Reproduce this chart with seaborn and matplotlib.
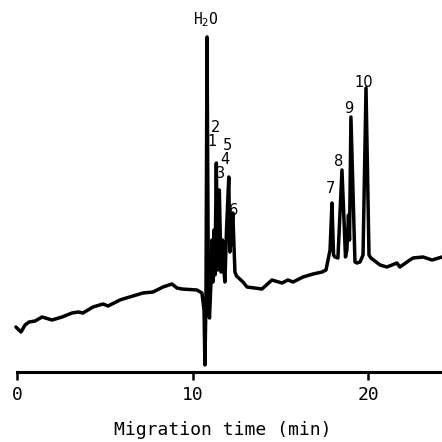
import matplotlib
matplotlib.use("Agg")
import matplotlib.pyplot as plt
import numpy as np
import pandas as pd
import seaborn as sns

# Electropherogram trace (time in min, detector response in arbitrary units)
time_min = [-0.09, 0.20, 0.43, 0.66, 1.00, 1.40, 1.97, 2.54, 3.11, 3.45, 3.73, 4.30, 4.87, 5.16,
            5.84, 6.01, 7.15, 7.72, 8.29, 8.80, 9.09, 9.37, 10.23, 10.51, 10.63, 10.68, 10.74,
            10.80, 10.88, 10.94, 11.03, 11.08, 11.14, 11.20, 11.25, 11.33, 11.40, 11.45, 11.47,
            11.50, 11.60, 11.68, 11.74, 11.82, 11.91, 12.04, 12.10, 12.17, 12.27, 12.39, 12.48,
            12.85, 13.08, 13.93, 14.50,
            15.07, 15.41, 15.70, 16.27, 16.84, 17.35, 17.58, 17.81, 17.92, 18.01, 18.09, 18.26,
            18.49, 18.69, 18.77, 18.86, 18.92, 19.00, 19.23, 19.34, 19.52, 19.69, 19.86, 20.03,
            20.14, 20.66, 21.05, 21.34, 21.62, 21.79, 22.36, 22.54, 23.11, 23.62, 24.19]
signal = [4.5, 4.0, 4.7, 5.0, 5.1, 5.5, 5.2, 5.5, 5.9, 6.0, 5.9, 6.5, 6.8, 6.6,
          7.2, 7.3, 7.9, 8.0, 8.5, 8.8, 8.4, 8.3, 8.2, 7.9, 6.2, 0.7, 7.2,
          33.5, 7.2, 5.4, 9.2, 13.2, 9.0, 14.2, 9.7, 20.9, 10.2, 13.5, 11.0,
          18.2, 10.0, 13.2, 10.5, 9.0, 14.2, 19.5, 12.0, 13.2, 15.9, 10.0, 9.6,
          9.0, 8.5, 8.3, 9.2,
          8.9, 9.2, 9.0, 9.5, 9.8, 10.0, 10.2, 12.2, 16.9, 11.7, 11.5, 11.4,
          20.2, 11.5, 12.2, 15.7, 13.2, 25.5, 11.0, 10.9, 11.0, 11.7, 28.4, 11.7,
          11.4, 10.7, 10.5, 10.7, 10.9, 10.5, 11.2, 11.4, 11.5, 11.2, 11.5]

peak_names = ["1", "2", "3", "4", "5", "6", "7", "8", "9", "10"]
peak_label_time = [11.08, 11.31, 11.59, 11.80, 11.99, 12.33, 17.86, 18.32, 18.89, 19.74]
peak_label_signal = [23.0, 24.5, 19.9, 21.3, 22.6, 16.2, 18.4, 21.0, 26.4, 29.0]
water_label = "H$_2$O"
water_time = 10.74
water_signal = 35.2

tick_values = [0, 10, 20]
tick_labels = ["0", "10", "20"]
x_label = "Migration time (min)"

sns.set_style("white")
plt.rcParams['font.family'] = ['DejaVu Sans Mono', 'DejaVu Sans']
plt.rcParams['mathtext.fontset'] = 'dejavusans'

fig = plt.figure(figsize=(4.42, 4.42), dpi=100)
ax = fig.add_axes([0, 70 / 442, 1, 372 / 442])

df = pd.DataFrame({"time": time_min, "signal": signal})
sns.lineplot(data=df, x="time", y="signal", ax=ax, color="black", linewidth=2.5,
             sort=False, estimator=None)

ax.set_xlim(-0.997, 24.19)
ax.set_ylim(0, 37.2)
for sp in ["left", "right", "top"]:
    ax.spines[sp].set_visible(False)
ax.spines["bottom"].set_bounds(0, 24.19)
ax.spines["bottom"].set_linewidth(2.2)
ax.spines["bottom"].set_color("black")

ax.set_xticks(tick_values)
ax.set_xticklabels(tick_labels)
ax.tick_params(axis="x", direction="out", length=6, width=1.8, pad=4, labelsize=13,
               bottom=True, color="black", labelcolor="black")
ax.set_yticks([])
ax.set_ylabel("")
ax.set_xlabel(x_label, fontsize=13, color="black")
ax.xaxis.set_label_coords(0.503, -58 / 372)
ax.xaxis.label.set_va("center")

for name, t, s in zip(peak_names, peak_label_time, peak_label_signal):
    ax.text(t, s, name, ha="center", va="center", fontsize=10.5, family="DejaVu Sans", color="black")
ax.text(water_time, water_signal, water_label, ha="center", va="center", fontsize=10.5,
        family="DejaVu Sans Mono", color="black")

fig.savefig("out.png", dpi=100)
